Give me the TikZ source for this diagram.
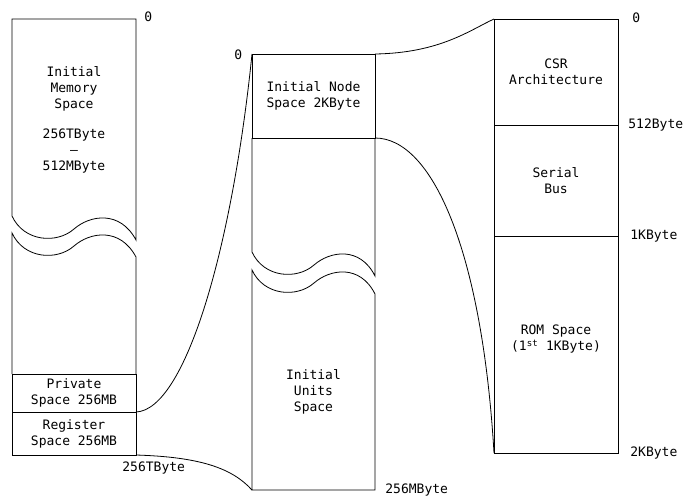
\documentclass[tikz,border=0pt]{standalone}
\usepackage{fontspec}
\newfontfamily\memfont{DejaVu Sans Mono}
\usetikzlibrary{positioning}

\begin{document}
\begin{tikzpicture}[x=1pt, y=-1pt, line width=0.8pt,
    every node/.style={font=\memfont\fontsize{13}{16}\selectfont},
    block/.style={draw, minimum width=124pt, inner sep=0pt, outer sep=0pt, align=center},
    addr/.style={anchor=west, inner sep=0pt},
    link/.style={draw, line width=0.8pt}]
  \useasboundingbox (0,0) rectangle (693,498);

  \node[block, minimum height=38pt] (priv) at (74,393) {Private\\Space 256MB};
  \node[block, minimum height=43pt, below=0pt of priv] (reg) {Register\\Space 256MB};
  \draw (136,19) -- (12,19) -- (12,216)
    .. controls (24,242) and (57,244) .. (74,229)
    .. controls (90,215) and (120,210) .. (136,240) -- cycle;
  \draw (priv.north west) -- (12,233)
    .. controls (24,259) and (57,261) .. (74,246)
    .. controls (90,232) and (120,227) .. (136,257) -- (priv.north east);
  \node[align=center] (memtext) at (74,120) {Initial\\Memory\\Space\\[14pt]256TByte\\–\\512MByte};
  \node[addr] (mem0) at (144,17) {0};
  \node[addr] (memend) at (122,468) {256TByte};

  \node[block, minimum width=123pt, minimum height=84pt] (nodesp) at (313.5,96) {Initial Node\\Space 2KByte};
  \draw (nodesp.south west) -- (252,252)
    .. controls (264,278) and (297,280) .. (314,265)
    .. controls (330,251) and (360,246) .. (375,276) -- (nodesp.south east);
  \coordinate (units-sw) at (252,490);
  \coordinate (units-se) at (375,490);
  \draw (252,270)
    .. controls (264,296) and (297,298) .. (314,283)
    .. controls (330,269) and (360,264) .. (375,294) -- (units-se) -- (units-sw) -- cycle;
  \node[align=center] (units) at (313.5,392) {Initial\\Units\\Space};
  \node[addr] (node0) at (234,55) {0};
  \node[addr] (nodeend) at (385,490) {256MByte};

  \node[block, minimum height=106pt] (csr) at (556,72) {CSR\\Architecture};
  \node[block, minimum height=111pt, below=0pt of csr] (bus) {Serial\\Bus};
  \node[block, minimum height=217pt, below=0pt of bus] (rom) {};
  \node[align=center] (romtext) at (556,339) {ROM Space\\(1\textsuperscript{st} 1KByte)};
  \node[addr] (csr0) at (632,18) {0};
  \node[addr] (csr512) at (628,125) {512Byte};
  \node[addr] (csr1k) at (630,236) {1KByte};
  \node[addr] (csr2k) at (630,453) {2KByte};

  \path[link] (reg.north east) .. controls (185,410) and (232,250) .. (nodesp.north west);
  \path[link] (reg.south east) .. controls (200,457) and (232,468) .. (units-sw);
  \path[link] (nodesp.north east) .. controls (440,53) and (470,30) .. (csr.north west);
  \path[link] (nodesp.south east) .. controls (432,138) and (482,250) .. (rom.south west);
\end{tikzpicture}
\end{document}
